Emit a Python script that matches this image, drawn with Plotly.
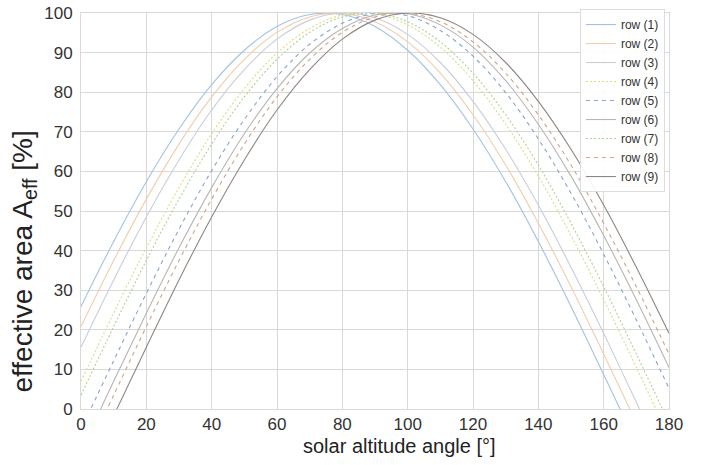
import plotly.graph_objects as go

angles = [0, 10, 20, 30, 40, 50, 60, 70, 80, 90, 100, 110, 120, 130, 140, 150, 160, 170, 180]

row1 = [25.9, 42.3, 57.4, 70.7, 81.9, 90.6, 96.6, 99.6, 99.6, 96.6, 90.6, 81.9, 70.7, 57.4, 42.3, 25.9, 8.7, -8.7, -25.9]
row2 = [20.8, 37.5, 53.0, 66.9, 78.8, 88.3, 95.1, 99.0, 99.9, 97.8, 92.7, 84.8, 74.3, 61.6, 46.9, 30.9, 13.9, -3.5, -20.8]
row3 = [15.6, 32.6, 48.5, 62.9, 75.5, 85.7, 93.4, 98.2, 100.0, 98.8, 94.6, 87.5, 77.7, 65.6, 51.5, 35.8, 19.1, 1.7, -15.6]
row4 = [7.0, 24.2, 40.7, 55.9, 69.5, 80.9, 89.9, 96.1, 99.5, 99.8, 97.0, 91.4, 82.9, 71.9, 58.8, 43.8, 27.6, 10.5, -7.0]
row5 = [-5.2, 12.2, 29.2, 45.4, 60.2, 73.1, 83.9, 92.1, 97.4, 99.9, 99.3, 95.6, 89.1, 79.9, 68.2, 54.5, 39.1, 22.5, 5.2]
row6 = [-10.5, 7.0, 24.2, 40.7, 55.9, 69.5, 80.9, 89.9, 96.1, 99.5, 99.8, 97.0, 91.4, 82.9, 71.9, 58.8, 43.8, 27.6, 10.5]
row7 = [3.5, 20.8, 37.5, 53.0, 66.9, 78.8, 88.3, 95.1, 99.0, 99.9, 97.8, 92.7, 84.8, 74.3, 61.6, 46.9, 30.9, 13.9, -3.5]
row8 = [-13.9, 3.5, 20.8, 37.5, 53.0, 66.9, 78.8, 88.3, 95.1, 99.0, 99.9, 97.8, 92.7, 84.8, 74.3, 61.6, 46.9, 30.9, 13.9]
row9 = [-19.1, -1.7, 15.6, 32.6, 48.5, 62.9, 75.5, 85.7, 93.4, 98.2, 100.0, 98.8, 94.6, 87.5, 77.7, 65.6, 51.5, 35.8, 19.1]

names = ["row (1)", "row (2)", "row (3)", "row (4)", "row (5)", "row (6)", "row (7)", "row (8)", "row (9)"]
series = [row1, row2, row3, row4, row5, row6, row7, row8, row9]
colors = ["#a3c2e2", "#f3ccab", "#c9cdd6", "#dcdc86", "#8aa3cf", "#b5b5b5", "#acd394", "#d3a283", "#8f8582"]
dashes = ["solid", "solid", "solid", "2px,2px", "4px,4px", "solid", "2px,2px", "4px,4px", "solid"]

fig = go.Figure()
for n, y, c, d in zip(names, series, colors, dashes):
    fig.add_trace(go.Scatter(x=angles, y=y, name=n, mode="lines",
                             line=dict(color=c, width=1.1, dash=d, shape="spline", smoothing=1.0)))

font_family = "Liberation Sans, Arial, sans-serif"
fig.update_layout(
    width=713, height=465,
    margin=dict(l=81, r=44, t=9, b=56),
    paper_bgcolor="white", plot_bgcolor="white",
    font=dict(family=font_family, color="#333333"),
    showlegend=True,
    legend=dict(x=0.993, y=1.01, xanchor="right", yanchor="top",
                bgcolor="rgba(255,255,255,0.9)", bordercolor="#dddddd", borderwidth=1,
                font=dict(size=12, color="#333333"), tracegroupgap=0,
                itemwidth=30),
    xaxis=dict(range=[0, 180], tickmode="array", tickvals=list(range(0, 181, 20)),
               automargin=False, ticklabeloverflow="allow",
               showgrid=True, gridcolor="#d9d9d9", gridwidth=1,
               showline=True, linecolor="#d9d9d9", linewidth=1, mirror=True,
               zeroline=False, ticks="", tickfont=dict(size=17, color="#333333")),
    yaxis=dict(range=[0, 100], tickmode="array", tickvals=list(range(0, 101, 10)),
               automargin=False, ticklabelstandoff=4, ticklabeloverflow="allow",
               showgrid=True, gridcolor="#d9d9d9", gridwidth=1,
               showline=True, linecolor="#d9d9d9", linewidth=1, mirror=True,
               zeroline=False, ticks="", tickfont=dict(size=17, color="#333333")),
    annotations=[
        dict(text="solar altitude angle [°]", xref="paper", yref="paper",
             x=0.5425, y=-0.0925, xanchor="center", yanchor="middle", showarrow=False,
             font=dict(size=20, color="#222222")),
        dict(text="effective area A<sub>eff</sub> [%]", xref="paper", yref="paper",
             x=-0.0969, y=0.3725, xanchor="center", yanchor="middle", showarrow=False,
             textangle=-90, font=dict(size=28, color="#222222")),
    ],
)

fig.write_html("out.html", config={"displayModeBar": False},
               post_script="document.body.style.margin='0';")
